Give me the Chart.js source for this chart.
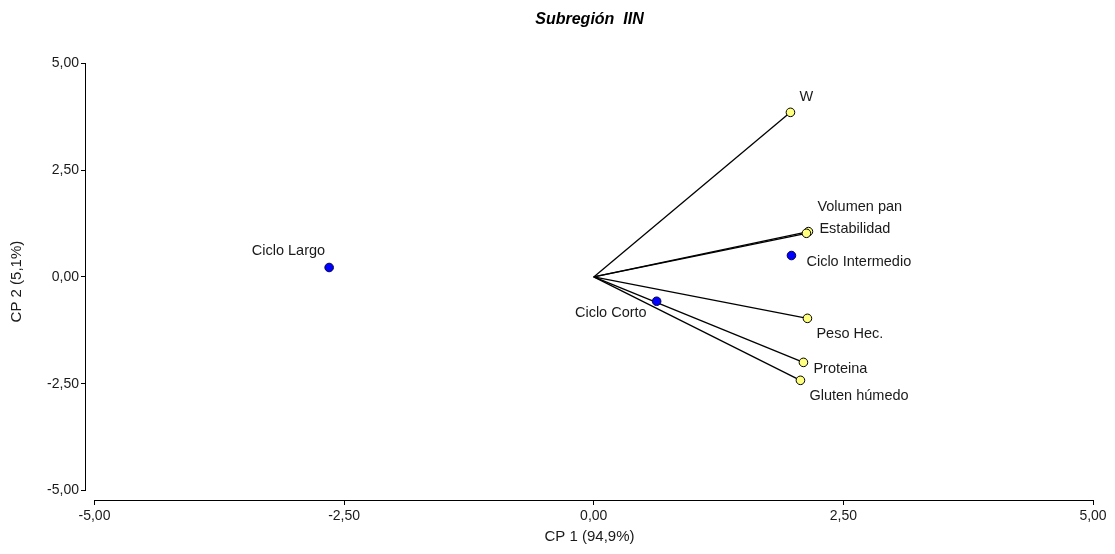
<!DOCTYPE html>
<html>
<head>
<meta charset="utf-8">
<script src="https://cdn.jsdelivr.net/npm/chart.js@4/dist/chart.umd.min.js"></script>
<style>
  html, body { margin: 0; padding: 0; background: #fff; }
</style>
</head>
<body>
<canvas id="biplot" width="1115" height="554"></canvas>
<script>
// variables (vectors from the origin)
const varNames = ['W', 'Volumen pan', 'Estabilidad', 'Peso Hec.', 'Proteina', 'Gluten húmedo'];
const varCP1 = [1.97, 2.15, 2.13, 2.14, 2.10, 2.07];
const varCP2 = [3.85, 1.06, 1.02, -0.97, -2.00, -2.42];

// observations (cycles)
const siteNames = ['Ciclo Largo', 'Ciclo Corto', 'Ciclo Intermedio'];
const siteCP1 = [-2.65, 0.63, 1.98];
const siteCP2 = [0.22, -0.57, 0.50];

const axisTicks = [-5, -2.5, 0, 2.5, 5];

// where each label sits relative to its point: dx, dy (px), alignment
const labelPlace = {
    'W': [16, -15, 'center'],
    'Volumen pan': [9, -25, 'left'],
    'Estabilidad': [13, -4, 'left'],
    'Peso Hec.': [9, 16, 'left'],
    'Proteina': [10, 7, 'left'],
    'Gluten húmedo': [9, 16, 'left'],
    'Ciclo Largo': [-4, -16, 'right'],
    'Ciclo Corto': [-10, 12, 'right'],
    'Ciclo Intermedio': [15, 6, 'left']
};

const fmt = v => Number(v).toFixed(2).replace('.', ',');
const textColor = '#1a1a1a';

Chart.defaults.font.family = '"Liberation Sans", Arial, sans-serif';

// axis lines are drawn apart from each other, like the original
const axesAndLabels = {
    id: 'axesAndLabels',
    afterDatasetsDraw(chart) {
        const {ctx, scales: {x, y}, chartArea} = chart;
        ctx.save();
        ctx.strokeStyle = '#000';
        ctx.lineWidth = 1;
        const lx = Math.round(chartArea.left) - 0.5;
        const by = Math.round(chartArea.bottom) + 0.5;
        ctx.beginPath();
        ctx.moveTo(lx, y.getPixelForValue(axisTicks[axisTicks.length - 1]));
        ctx.lineTo(lx, y.getPixelForValue(axisTicks[0]));
        ctx.moveTo(x.getPixelForValue(axisTicks[0]), by);
        ctx.lineTo(x.getPixelForValue(axisTicks[axisTicks.length - 1]), by);
        ctx.stroke();

        ctx.font = '14.5px "Liberation Sans", Arial, sans-serif';
        ctx.fillStyle = textColor;
        ctx.textBaseline = 'middle';
        const put = (name, vx, vy) => {
            const [dx, dy, align] = labelPlace[name];
            ctx.textAlign = align;
            ctx.fillText(name, x.getPixelForValue(vx) + dx, y.getPixelForValue(vy) + dy);
        };
        varNames.forEach((n, i) => put(n, varCP1[i], varCP2[i]));
        siteNames.forEach((n, i) => put(n, siteCP1[i], siteCP2[i]));
        ctx.restore();
    }
};

const vectorSets = varNames.map((n, i) => ({
    label: n,
    data: [{x: 0, y: 0}, {x: varCP1[i], y: varCP2[i]}],
    showLine: true,
    borderColor: '#000',
    borderWidth: 1.3,
    pointRadius: 0,
    order: 2
}));

const ctx = document.getElementById('biplot').getContext('2d');
new Chart(ctx, {
    type: 'scatter',
    data: {
        datasets: [{
            label: 'Variables',
            data: varCP1.map((v, i) => ({x: v, y: varCP2[i]})),
            backgroundColor: '#ffff80',
            borderColor: '#000',
            borderWidth: 1,
            pointRadius: 4.3,
            order: 0
        }, {
            label: 'Ciclos',
            data: siteCP1.map((v, i) => ({x: v, y: siteCP2[i]})),
            backgroundColor: '#0000ff',
            borderColor: '#00004d',
            borderWidth: 1,
            pointRadius: 4.3,
            order: 0
        }, ...vectorSets]
    },
    options: {
        responsive: false,
        animation: false,
        layout: {padding: {left: 0, right: 22, top: 0, bottom: 0}},
        plugins: {
            legend: {display: false},
            tooltip: {enabled: false},
            title: {
                display: true,
                text: 'Subregión  IIN',
                fullSize: false,
                color: '#000',
                font: {size: 16, weight: 'bold', style: 'italic'},
                padding: {top: 10, bottom: 34}
            }
        },
        scales: {
            x: {
                type: 'linear',
                min: -5.085,
                max: 5,
                afterBuildTicks: s => { s.ticks = axisTicks.map(v => ({value: v})); },
                afterFit: s => { s.height = 54; },
                ticks: {callback: fmt, color: textColor, font: {size: 14}, padding: 3, maxRotation: 0, autoSkip: false},
                grid: {drawOnChartArea: false, drawTicks: true, tickLength: 5, color: '#000'},
                border: {display: false},
                title: {display: true, text: 'CP 1 (94,9%)', color: textColor, font: {size: 15}, padding: {top: 0, bottom: 8}}
            },
            y: {
                type: 'linear',
                min: -5.22,
                max: 5,
                afterBuildTicks: s => { s.ticks = axisTicks.map(v => ({value: v})); },
                afterFit: s => { s.width = 86; },
                ticks: {callback: fmt, color: textColor, font: {size: 14}, padding: 2, autoSkip: false},
                grid: {drawOnChartArea: false, drawTicks: true, tickLength: 5, color: '#000'},
                border: {display: false},
                title: {display: true, text: 'CP 2 (5,1%)', color: textColor, font: {size: 15}, padding: {top: 8, bottom: 0}}
            }
        }
    },
    plugins: [axesAndLabels]
});
</script>
</body>
</html>
